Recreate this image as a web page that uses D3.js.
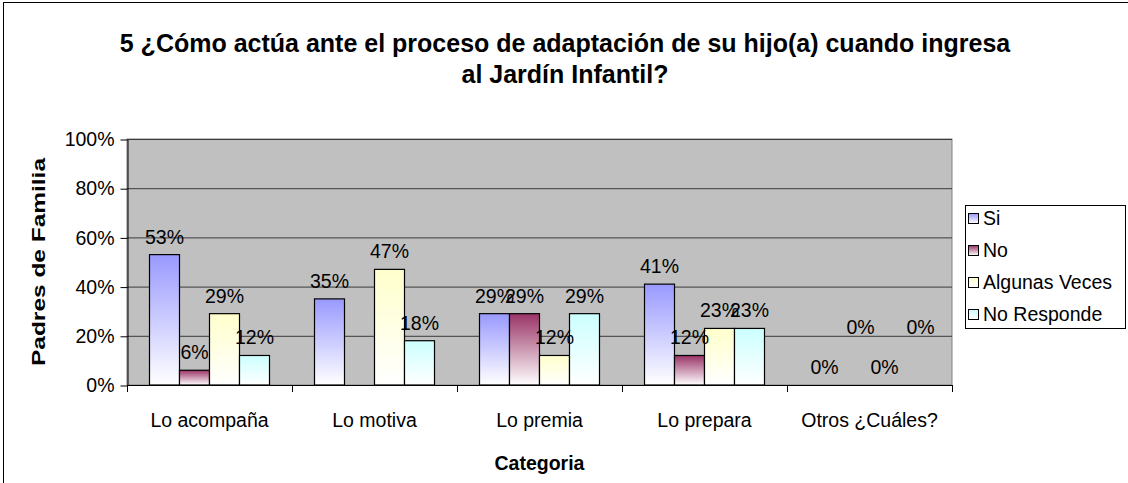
<!DOCTYPE html>
<html>
<head>
<meta charset="utf-8">
<script src="https://cdn.jsdelivr.net/npm/d3@7"></script>
<style>
  body { margin: 0; background: #fff; }
  svg { display: block; font-family: "Liberation Sans", Arial, sans-serif; }
</style>
</head>
<body>
<svg id="chart" width="1128" height="483"></svg>
<script>
var width = 1128, height = 483;

var categories = ["Lo acompaña", "Lo motiva", "Lo premia", "Lo prepara", "Otros ¿Cuáles?"];
var seriesNames = ["Si", "No", "Algunas Veces", "No Responde"];
var si = [53, 35, 29, 41, 0];
var no = [6, null, 29, 12, 0];
var algunas = [29, 47, 12, 23, 0];
var noResponde = [12, 18, 29, 23, 0];
var yTicks = [0, 20, 40, 60, 80, 100];
var seriesColors = ["#9999FF", "#993366", "#FFFFCC", "#CCFFFF"];

var titleLines = ["5 ¿Cómo actúa ante el proceso de adaptación de su hijo(a) cuando ingresa", "al Jardín Infantil?"];

var series = [si, no, algunas, noResponde];

var plot = { left: 127, right: 952, top: 139, bottom: 385 };

var svg = d3.select("#chart");

// outer frame (right and bottom edges fall outside the picture)
svg.append("rect")
        .attr("x", 3.5).attr("y", 2.5)
        .attr("width", width + 10).attr("height", height + 10)
        .attr("fill", "#fff")
        .attr("stroke", "#000");

// gradients, colour on top fading to white
var defs = svg.append("defs");
seriesColors.forEach(function (c, i) {
        var g = defs.append("linearGradient")
                .attr("id", "grad" + i)
                .attr("x1", 0).attr("y1", 0).attr("x2", 0).attr("y2", 1);
        g.append("stop").attr("offset", "0%").attr("stop-color", c);
        g.append("stop").attr("offset", "100%").attr("stop-color", "#fff");
});

var x0 = d3.scaleBand()
        .domain(categories)
        .range([plot.left, plot.right]);

var x1 = d3.scaleBand()
        .domain(seriesNames)
        .range([0, x0.bandwidth()])
        .paddingOuter(0.75);

var y = d3.scaleLinear()
        .domain([0, 100])
        .range([plot.bottom, plot.top]);

// plot area
svg.append("rect")
        .attr("x", plot.left).attr("y", plot.top)
        .attr("width", plot.right - plot.left).attr("height", plot.bottom - plot.top)
        .attr("fill", "#C0C0C0")
        .attr("stroke", "#808080");

// gridlines
svg.append("g")
        .selectAll("line")
        .data(yTicks.filter(function (d) { return d > 0; }))
        .enter().append("line")
        .attr("x1", plot.left).attr("x2", plot.right)
        .attr("y1", function (d) { return y(d) + 0.5; })
        .attr("y2", function (d) { return y(d) + 0.5; })
        .attr("stroke", "#3a3a3a");

// y axis
var yAxis = svg.append("g")
        .attr("transform", "translate(" + (plot.left + 0.5) + ",0.5)")
        .call(d3.axisLeft(y).tickValues(yTicks).tickFormat(function (d) { return d + "%"; }).tickSize(7).tickSizeOuter(0).tickPadding(6));
yAxis.select(".domain").attr("stroke", "#000");
yAxis.selectAll("text").attr("font-size", 19.5).attr("font-family", "Liberation Sans, Arial, sans-serif").attr("fill", "#000");

// x axis: labels at category centres, ticks at boundaries
var xAxis = svg.append("g")
        .attr("transform", "translate(0," + (plot.bottom + 0.5) + ")")
        .call(d3.axisBottom(x0).tickSize(0).tickPadding(28));
xAxis.select(".domain").attr("stroke", "#000").attr("d", "M" + plot.left + ",0H" + plot.right);
xAxis.selectAll("text").attr("font-size", 19.5).attr("font-family", "Liberation Sans, Arial, sans-serif").attr("fill", "#000");

svg.append("g")
        .selectAll("line")
        .data(categories.map(function (c) { return x0(c); }).concat([plot.right]))
        .enter().append("line")
        .attr("x1", function (d) { return Math.round(d) + 0.5; })
        .attr("x2", function (d) { return Math.round(d) + 0.5; })
        .attr("y1", plot.bottom).attr("y2", plot.bottom + 7)
        .attr("stroke", "#000");

// bars
var groups = svg.append("g")
        .selectAll("g")
        .data(categories)
        .enter().append("g")
        .attr("transform", function (c) { return "translate(" + x0(c) + ",0)"; });

groups.selectAll("rect")
        .data(function (c, ci) {
                return seriesNames.map(function (s, si) { return { s: s, si: si, v: series[si][ci] }; });
        })
        .enter().append("rect")
        .filter(function (d) { return d.v > 0; })
        .attr("x", function (d) { return x1(d.s); })
        .attr("y", function (d) { return y(d.v); })
        .attr("width", x1.bandwidth())
        .attr("height", function (d) { return y(0) - y(d.v); })
        .attr("fill", function (d) { return "url(#grad" + d.si + ")"; })
        .attr("stroke", "#000")
        .attr("stroke-width", 1.2);

// value labels (zero labels of alternate series were moved up in the original)
groups.selectAll("text.val")
        .data(function (c, ci) {
                return seriesNames.map(function (s, si) { return { s: s, si: si, v: series[si][ci] }; });
        })
        .enter().append("text")
        .attr("class", "val")
        .filter(function (d) { return d.v !== null; })
        .attr("x", function (d) { return x1(d.s) + x1.bandwidth() / 2 + (d.v === 0 && d.si % 2 ? 6 : 0); })
        .attr("y", function (d) { return y(d.v) - 11 - (d.v === 0 && d.si % 2 ? 40 : 0); })
        .attr("text-anchor", "middle")
        .attr("font-size", 19.5)
        .text(function (d) { return d.v + "%"; });

// title
svg.append("g")
        .selectAll("text")
        .data(titleLines)
        .enter().append("text")
        .attr("x", 565)
        .attr("y", function (d, i) { return 52 + i * 31; })
        .attr("text-anchor", "middle")
        .attr("font-size", 25)
        .attr("font-weight", "bold")
        .text(function (d) { return d; });

// axis titles
svg.append("text")
        .attr("x", (plot.left + plot.right) / 2)
        .attr("y", 470)
        .attr("text-anchor", "middle")
        .attr("font-size", 19.5)
        .attr("font-weight", "bold")
        .text("Categoria");

svg.append("text")
        .attr("transform", "translate(45," + (plot.top + plot.bottom) / 2 + ") rotate(-90)")
        .attr("text-anchor", "middle")
        .attr("font-size", 19)
        .attr("font-weight", "bold")
        .attr("textLength", 208)
        .attr("lengthAdjust", "spacingAndGlyphs")
        .text("Padres de Familia");

// legend
var legend = svg.append("g").attr("transform", "translate(965,205)");
legend.append("rect")
        .attr("x", 0.5).attr("y", 0.5)
        .attr("width", 160).attr("height", 123)
        .attr("fill", "#fff").attr("stroke", "#000");

var items = legend.selectAll(".legend")
        .data(seriesNames)
        .enter().append("g")
        .attr("class", "legend")
        .attr("transform", function (d, i) { return "translate(0," + (8 + i * 32) + ")"; });

items.append("rect")
        .attr("x", 3.5).attr("y", 0.5)
        .attr("width", 10).attr("height", 10)
        .attr("fill", function (d, i) { return "url(#grad" + i + ")"; })
        .attr("stroke", "#000");

items.append("text")
        .attr("x", 18)
        .attr("y", 12)
        .attr("font-size", 19.5)
        .text(function (d) { return d; });
</script>
</body>
</html>
